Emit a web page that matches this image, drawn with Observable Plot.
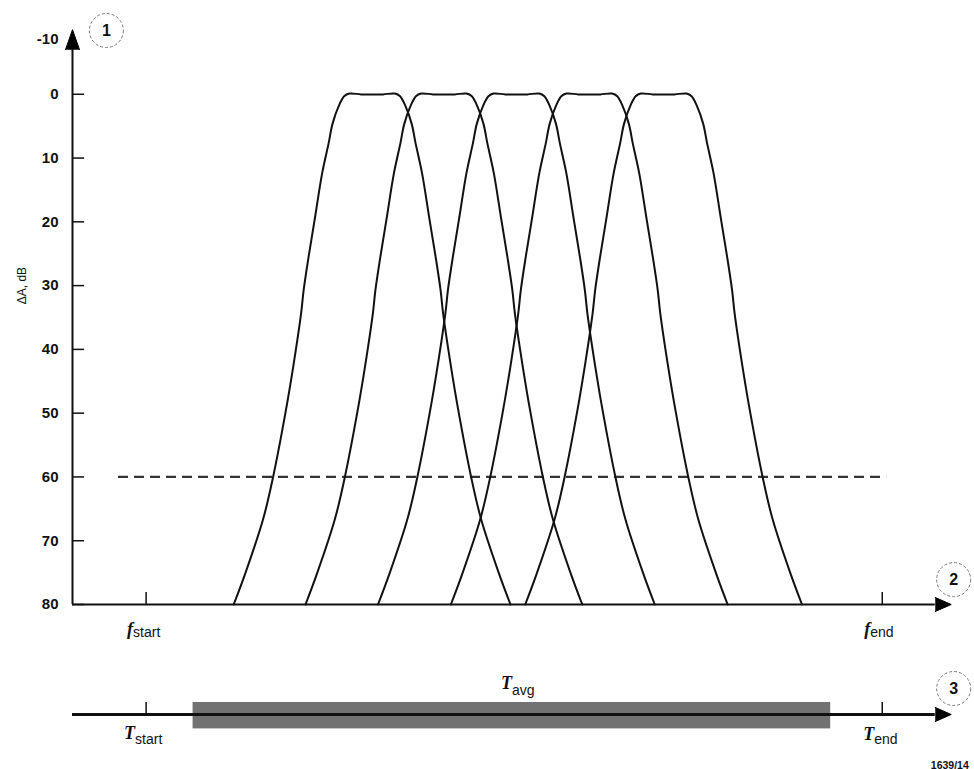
<!DOCTYPE html>
<html>
<head>
<meta charset="utf-8">
<script src="https://cdn.jsdelivr.net/npm/d3@7"></script>
<script src="https://cdn.jsdelivr.net/npm/@observablehq/plot@0.6"></script>
<style>
  html, body { margin: 0; padding: 0; background: #fff; overflow: hidden; }
  #chart { width: 974px; }
  #chart svg { display: block; overflow: visible; }
</style>
</head>
<body>
<div id="chart"></div>
<script>
// ---- data (frequency in relative units: f_start = 0, f_end = 100; level in dB attenuation) ----
const filterCenters = [30.7, 40.45, 50.3, 60.2, 70.3];
// one filter response: offset from the filter centre vs. attenuation ΔA (dB)
const shapeOffset = [-18.8, -17.25, -14.8, -13.45, -11.78, -10.66, -9.65, -9.3, -8.63, -7.74, -6.79, -5.91, -5.37, -4.48, -3.8, -3.1, -1.5, 0,
                      1.5, 3.1, 3.8, 4.48, 5.37, 5.91, 6.79, 7.74, 8.63, 9.3, 9.65, 10.66, 11.78, 13.45, 14.8, 17.25, 18.8];
const shapeLevel  = [80, 75.2, 66.6, 60, 50, 42.3, 34.4, 30.7, 25.5, 19.2, 12.4, 7.7, 4.6, 1.7, 0.3, -0.12, 0.02, 0.05,
                      0.02, -0.12, 0.3, 1.7, 4.6, 7.7, 12.4, 19.2, 25.5, 30.7, 34.4, 42.3, 50, 60, 66.6, 75.2, 80];
const yTicks = [0, 10, 20, 30, 40, 50, 60, 70, 80];
const yTopLabel = "-10";
const thresholdLevel = 60;
const thresholdRange = [-3.75, 100.6];
const fStart = 0, fEnd = 100;
const avgWindow = [6.38, 93.0];
const badgeLabels = ["1", "2", "3"];

const curveData = filterCenters.flatMap((c, i) =>
  shapeOffset.map((o, j) => ({filter: i + 1, f: c + o, level: shapeLevel[j]})));

const FONT = "'Liberation Sans', Arial, sans-serif";
const SERIF = "'Liberation Serif', 'Times New Roman', serif";
const xDomain = [-10, 109];
const axisEnd = 107.2;

function subLabel(x, y, main, sub, dyMain, dySub, dx) {
  return [
    Plot.text([main], {x: () => x, y: () => y, text: d => d, textAnchor: "end", dx: dx, dy: dyMain,
      fontFamily: SERIF, fontStyle: "italic", fontWeight: "bold", fontSize: 18, fill: "#111"}),
    Plot.text([sub], {x: () => x, y: () => y, text: d => d, textAnchor: "start", dx: dx, dy: dySub,
      fontFamily: FONT, fontSize: 14, fill: "#111"})
  ];
}
function badge(x, y, label) {
  return [
    Plot.dot([label], {x: () => x, y: () => y, r: 17, fill: "white", stroke: "#777", strokeWidth: 1, strokeDasharray: "3,2"}),
    Plot.text([label], {x: () => x, y: () => y, text: d => d, fontFamily: FONT, fontWeight: "bold", fontSize: 16, fill: "#111"})
  ];
}

const plot1 = Plot.plot({
  width: 974, height: 650,
  marginLeft: 72, marginRight: 26, marginTop: 30, marginBottom: 46,
  style: {fontFamily: FONT, background: "white", overflow: "visible"},
  x: {domain: xDomain, axis: null},
  y: {domain: [-10, 80], reverse: true, axis: null},
  marks: [
    Plot.ruleY([thresholdLevel], {x1: thresholdRange[0], x2: thresholdRange[1], stroke: "#333", strokeWidth: 2.2, strokeDasharray: "10,6"}),
    Plot.line(curveData, {x: "f", y: "level", z: "filter", curve: "catmull-rom", stroke: "#111", strokeWidth: 2}),
    // y axis
    Plot.ruleX([-10], {y1: 80, y2: -7, stroke: "#111", strokeWidth: 2}),
    Plot.vector([0], {x: () => -10, y: () => -7, length: 20, r: 7, rotate: 0, shape: "spike", anchor: "start", fill: "#000", stroke: "#000", strokeWidth: 1}),
    Plot.ruleY(yTicks, {x1: -10, x2: -8.35, stroke: "#111", strokeWidth: 1.5}),
    Plot.text(yTicks, {x: () => -10, y: d => d, text: d => String(d), textAnchor: "end", dx: -14, fontWeight: "bold", fontSize: 15, fill: "#111"}),
    Plot.text([yTopLabel], {x: () => -10, y: () => -10, text: d => d, textAnchor: "end", dx: -14, dy: 9, fontWeight: "bold", fontSize: 15, fill: "#111"}),
    Plot.text(["ΔA, dB"], {x: () => -10, y: () => 30, text: d => d, rotate: -90, dx: -50, fontSize: 12, fill: "#111"}),
    // x axis
    Plot.ruleY([80], {x1: -10, x2: axisEnd, stroke: "#111", strokeWidth: 2}),
    Plot.vector([0], {x: () => axisEnd, y: () => 80, length: 16, r: 7, rotate: 90, shape: "spike", anchor: "start", fill: "#000", stroke: "#000", strokeWidth: 1}),
    Plot.ruleX([fStart, fEnd], {y1: 80, y2: 78.1, stroke: "#111", strokeWidth: 1.5}),
    ...subLabel(fStart, 80, "f", "start", 25, 28, -13),
    ...subLabel(fEnd, 80, "f", "end", 25, 28, -12),
    ...badge(-5.4, -10, badgeLabels[0]),
    ...badge(109.7, 76.1, badgeLabels[1])
  ]
});

const plot2 = Plot.plot({
  width: 974, height: 119,
  marginLeft: 72, marginRight: 26, marginTop: 24, marginBottom: 15,
  style: {fontFamily: FONT, background: "white", overflow: "visible"},
  x: {domain: xDomain, axis: null},
  y: {domain: [-1, 1], axis: null},
  marks: [
    Plot.rect([0], {x1: avgWindow[0], x2: avgWindow[1], y1: -0.36, y2: 0.3, fill: "#727272"}),
    Plot.ruleY([0], {x1: -10, x2: axisEnd, stroke: "#111", strokeWidth: 3}),
    Plot.vector([0], {x: () => axisEnd, y: () => 0, length: 16, r: 7, rotate: 90, shape: "spike", anchor: "start", fill: "#000", stroke: "#000", strokeWidth: 1}),
    Plot.ruleX([fStart, fEnd], {y1: 0, y2: 0.3, stroke: "#111", strokeWidth: 1.5}),
    ...subLabel(fStart, 0, "T", "start", 19, 25, -11),
    ...subLabel(fEnd, 0, "T", "end", 20, 25, -8),
    ...subLabel((avgWindow[0] + avgWindow[1]) / 2, 0, "T", "avg", -31, -24, 0),
    ...badge(109.7, 0.65, badgeLabels[2]),
    Plot.text(["1639/14"], {x: () => 106.6, y: () => -1.27, text: d => d, textAnchor: "start", fontWeight: "bold", fontSize: 10.5, fill: "#111"})
  ]
});

document.getElementById("chart").append(plot1, plot2);
</script>
</body>
</html>
